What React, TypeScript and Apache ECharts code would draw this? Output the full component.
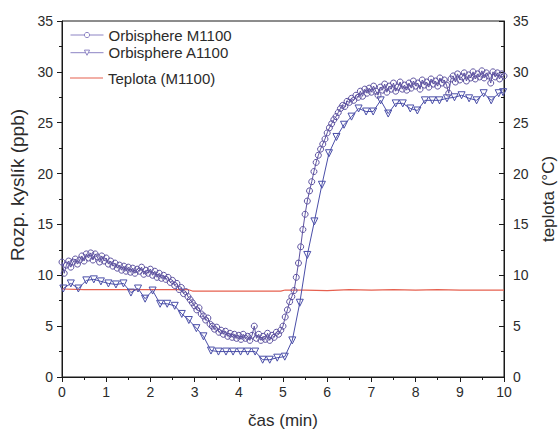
import React, { useEffect, useRef } from "react";
import * as echarts from "echarts";

// Orbisphere M1100 – sampled every 3 s (0.05 min), 0 … 10 min
const M_STEP = 0.05;
const m1100Values = [
  11.3, 10.2, 11.0, 11.4, 10.8, 11.3, 11.6, 11.1, 11.5, 11.9,
  11.4, 12.1, 11.7, 12.2, 11.5, 12.1, 11.8, 11.3, 11.9, 11.4,
  11.7, 11.1, 11.4, 10.9, 11.2, 10.7, 11.0, 10.5, 10.9, 10.4,
  10.8, 10.3, 10.7, 10.2, 10.6, 10.4, 10.8, 10.1, 10.5, 10.2,
  10.6, 10.0, 10.4, 9.8, 10.2, 9.7, 10.0, 9.6, 9.8, 9.3,
  9.5, 9.0, 9.2, 8.6, 8.8, 8.2, 8.4, 7.9, 7.6, 7.3,
  7.0, 6.6, 6.8, 6.2, 6.0, 5.6, 5.8, 5.2, 5.0, 4.7,
  4.9, 4.4, 4.6, 4.2, 4.5, 4.0, 4.3, 3.9, 4.2, 3.8,
  4.1, 3.7, 4.2, 3.8, 4.0, 3.6, 4.1, 5.0, 3.8, 4.2,
  3.6, 4.0, 3.7, 4.3, 3.6, 4.1, 3.9, 4.4, 4.2, 4.6,
  5.0, 5.9, 6.6, 7.4, 7.9, 8.5, 9.8, 11.2, 12.8, 14.5,
  16.0, 17.3, 18.3, 19.2, 20.2, 21.1, 21.8, 22.4, 22.9, 23.4,
  24.0, 24.5, 24.9, 25.3, 25.6, 26.0, 26.4, 26.7, 26.6, 27.1,
  27.0, 27.4, 27.2, 27.7, 27.5, 28.1, 27.6, 28.3, 27.9, 28.4,
  28.0, 28.6, 28.1, 27.7, 28.5, 28.2, 28.8, 28.0, 28.6, 28.3,
  28.9, 28.1, 28.5, 29.0, 28.3, 28.7, 28.2, 28.9, 28.4, 29.1,
  28.6, 28.9, 28.3, 29.2, 28.7, 29.0, 28.5, 29.3, 28.8, 29.1,
  28.6, 29.4, 28.9, 29.2, 28.7, 27.9, 29.3, 29.6, 29.0, 29.8,
  29.2, 29.5, 29.9, 29.1, 29.7, 29.4, 30.0, 29.3, 29.8, 29.5,
  30.1, 29.4, 29.9, 29.6, 28.9, 30.0, 29.5, 29.9, 29.3, 29.8,
  29.6,
];

// Orbisphere A1100 – about every 10 s
const a1100Times = [
  0.03, 0.2, 0.37, 0.55, 0.72, 0.88, 1.05, 1.22, 1.39, 1.56,
  1.72, 1.88, 2.05, 2.22, 2.38, 2.55, 2.71, 2.87, 3.04, 3.2,
  3.37, 3.54, 3.71, 3.87, 4.04, 4.2, 4.37, 4.54, 4.7, 4.87,
  5.04, 5.21, 5.38, 5.55, 5.71, 5.88, 6.04, 6.21, 6.38, 6.55,
  6.71, 6.88, 7.04, 7.21, 7.38, 7.55, 7.71, 7.88, 8.04, 8.21,
  8.38, 8.54, 8.71, 8.88, 9.04, 9.21, 9.38, 9.54, 9.71, 9.88,
  9.98,
];
const a1100Values = [
  8.7, 9.2, 8.7, 9.5, 9.6, 9.4, 9.2, 9.1, 9.2, 8.3,
  8.7, 7.7, 8.5, 7.2, 7.2, 7.0, 6.2, 5.6, 4.8, 4.0,
  2.6, 2.5, 2.5, 2.5, 2.5, 2.5, 2.5, 1.7, 1.7, 1.9,
  2.0, 3.6, 7.3, 12.0, 15.3, 18.9, 22.0, 23.6, 24.8, 25.6,
  26.4, 26.1, 26.1, 27.2, 25.9, 26.9, 26.9, 26.4, 26.2, 27.2,
  27.2, 27.2, 27.4, 27.5, 27.7, 27.4, 27.2, 27.9, 27.2, 27.9,
  28.0,
];

// Teplota (M1100), °C
const tempTimes = [0, 0.5, 1, 1.5, 2, 2.5, 2.85, 2.95, 3.5, 4, 4.5, 4.95, 5.05, 5.5, 6, 6.5, 7, 7.5, 8, 8.5, 9, 9.5, 10];
const tempValues = [8.65, 8.6, 8.6, 8.6, 8.6, 8.6, 8.6, 8.45, 8.45, 8.45, 8.45, 8.45, 8.55, 8.55, 8.5, 8.6, 8.55, 8.6, 8.55, 8.6, 8.55, 8.55, 8.55];

const seriesNames = ["Orbisphere M1100", "Orbisphere A1100", "Teplota (M1100)"];
const xTitle = "čas (min)";
const yLeftTitle = "Rozp. kyslík (ppb)";
const yRightTitle = "teplota (°C)";

const FONT = "Liberation Sans, Arial, sans-serif";
const TXT = "#2b2b2b";
const AX = "#1a1a1a";
const C_M = "#5d52a0";
const C_A = "#4a4ea8";
const C_T = "#e6604f";
const C_LEG = "#8d84c4";

export default function App() {
  const ref = useRef<HTMLDivElement>(null);

  useEffect(() => {
    if (!ref.current) return;
    const chart = echarts.init(ref.current, undefined, { renderer: "svg" });

    const mData = m1100Values.map((v, i) => [Math.round(i * M_STEP * 100) / 100, v]);
    const aData = a1100Values.map((v, i) => [a1100Times[i], v]);
    const tData = tempValues.map((v, i) => [tempTimes[i], v]);

    const yCommon = {
      type: "value",
      min: 0,
      max: 35,
      interval: 5,
      splitLine: { show: false },
      minorTick: { show: true, splitNumber: 2, length: 3, lineStyle: { color: AX } },
      axisLine: { show: true, lineStyle: { color: AX, width: 1 } },
      axisLabel: { color: TXT, fontSize: 14, fontFamily: FONT },
      nameLocation: "middle",
      nameRotate: 90,
    };

    const legendText = { color: TXT, fontSize: 15, fontFamily: FONT };

    chart.setOption({
      animation: false,
      backgroundColor: "#fff",
      grid: {
        left: 62,
        right: 56,
        top: 21,
        bottom: 52,
        show: true,
        borderColor: AX,
        borderWidth: 1,
        backgroundColor: "transparent",
        outerBoundsMode: "none",
        containLabel: false,
      },
      legend: [
        {
          data: [
            {
              name: seriesNames[0],
              itemStyle: { color: "#fff", borderColor: C_LEG, borderWidth: 1 },
              lineStyle: { color: C_LEG, width: 1 },
            },
            {
              name: seriesNames[1],
              itemStyle: { color: "#fff", borderColor: C_LEG, borderWidth: 1 },
              lineStyle: { color: C_LEG, width: 1 },
            },
          ],
          orient: "vertical",
          left: 70,
          top: 27.5,
          padding: 0,
          itemWidth: 33,
          itemHeight: 6.5,
          itemGap: 2.7,
          textStyle: legendText,
        },
        {
          data: [{ name: seriesNames[2], icon: "rect", itemStyle: { color: C_T } }],
          orient: "vertical",
          left: 70,
          top: 70.5,
          padding: 0,
          itemWidth: 33,
          itemHeight: 1.2,
          textStyle: legendText,
        },
      ],
      xAxis: {
        type: "value",
        min: 0,
        max: 10,
        interval: 1,
        splitLine: { show: false },
        axisLine: { show: true, onZero: false, lineStyle: { color: AX, width: 1 } },
        axisTick: { show: true, length: 5, lineStyle: { color: AX } },
        minorTick: { show: true, splitNumber: 2, length: 3, lineStyle: { color: AX } },
        axisLabel: { color: TXT, fontSize: 14, fontFamily: FONT, margin: 8 },
        name: xTitle,
        nameLocation: "middle",
        nameGap: 35,
        nameTextStyle: { color: TXT, fontSize: 17, fontFamily: FONT },
      },
      yAxis: [
        {
          ...yCommon,
          position: "left",
          axisTick: { show: true, length: 5, lineStyle: { color: AX } },
          axisLabel: { ...yCommon.axisLabel, margin: 9 },
          name: yLeftTitle,
          nameGap: 33,
          nameTextStyle: { color: TXT, fontSize: 19, fontFamily: FONT, padding: [0, 0, 0, 28] },
        },
        {
          ...yCommon,
          position: "right",
          axisTick: { show: true, inside: true, length: 5, lineStyle: { color: AX } },
          minorTick: { show: true, splitNumber: 2, length: 3, lineStyle: { color: AX } },
          axisLabel: { ...yCommon.axisLabel, margin: 9 },
          name: yRightTitle,
          nameGap: 36,
          nameTextStyle: { color: TXT, fontSize: 17, fontFamily: FONT },
        },
      ],
      series: [
        {
          name: seriesNames[0],
          type: "line",
          data: mData,
          yAxisIndex: 0,
          symbol: "circle",
          symbolSize: 6,
          showAllSymbol: true,
          lineStyle: { color: C_M, width: 1 },
          itemStyle: { color: "rgba(255,255,255,0)", borderColor: C_M, borderWidth: 1 },
          z: 3,
        },
        {
          name: seriesNames[1],
          type: "line",
          data: aData,
          yAxisIndex: 0,
          symbol: "triangle",
          symbolRotate: 180,
          symbolSize: 7,
          showAllSymbol: true,
          lineStyle: { color: C_A, width: 1 },
          itemStyle: { color: "rgba(255,255,255,0)", borderColor: C_A, borderWidth: 1 },
          z: 2,
        },
        {
          name: seriesNames[2],
          type: "line",
          data: tData,
          yAxisIndex: 1,
          symbol: "none",
          lineStyle: { color: C_T, width: 1.2 },
          itemStyle: { color: C_T },
          z: 1,
        },
      ],
    });

    return () => chart.dispose();
  }, []);

  return (
    <div
      ref={ref}
      style={{ position: "absolute", left: 0, top: 0, width: 560, height: 429 }}
    />
  );
}
